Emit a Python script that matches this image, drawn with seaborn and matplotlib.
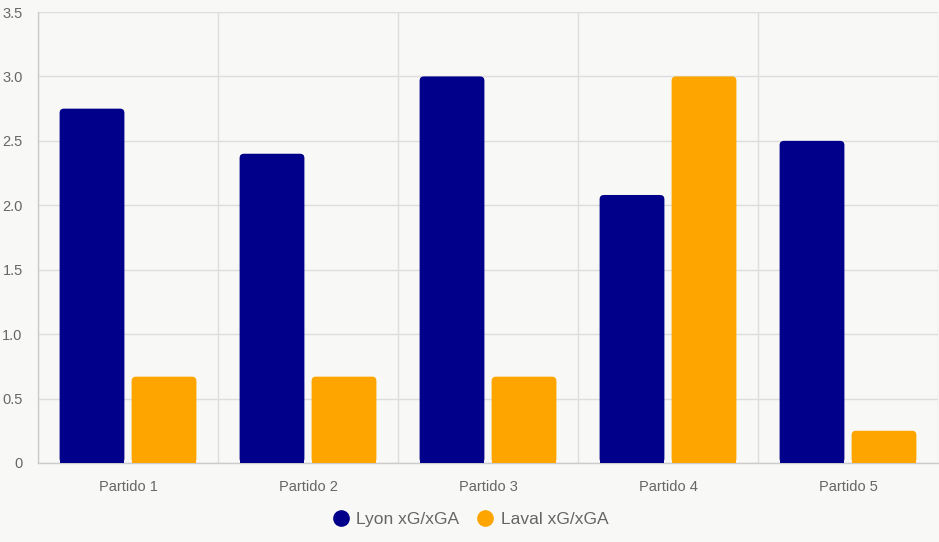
import matplotlib
matplotlib.use("Agg")
import matplotlib.pyplot as plt
from matplotlib.lines import Line2D
from matplotlib.patches import FancyBboxPatch
import seaborn as sns
import pandas as pd

categories = ["Partido 1", "Partido 2", "Partido 3", "Partido 4", "Partido 5"]
series_names = ["Lyon xG/xGA", "Laval xG/xGA"]
lyon_values = [2.75, 2.4, 3.0, 2.08, 2.5]
laval_values = [0.67, 0.67, 0.67, 3.0, 0.25]
y_ticks = [0, 0.5, 1.0, 1.5, 2.0, 2.5, 3.0, 3.5]
y_tick_labels = ["0", "0.5", "1.0", "1.5", "2.0", "2.5", "3.0", "3.5"]
colors = ["#00008B", "#FFA500"]

df = pd.DataFrame({
    "Partido": categories * 2,
    "Serie": [series_names[0]] * len(categories) + [series_names[1]] * len(categories),
    "Valor": lyon_values + laval_values,
})

sns.set_theme(style="white")
plt.rcParams["font.family"] = ["Liberation Sans", "DejaVu Sans"]
bg = "#F8F8F6"
grid_c = "#DDDDDD"
text_c = "#666666"

fig = plt.figure(figsize=(9.39, 5.42), dpi=100)
fig.patch.set_facecolor(bg)
ax = fig.add_axes([38 / 939, (542 - 463) / 542, 900 / 939, 451 / 542])
ax.set_facecolor(bg)

sns.barplot(data=df, x="Partido", y="Valor", hue="Serie", palette=colors,
            width=0.8, gap=0.1, ax=ax, legend=False, errorbar=None,
            saturation=1, zorder=3)

# round the top corners of the bars
patches = list(ax.patches)
for p in patches:
    x, y = p.get_x(), p.get_y()
    w, h = p.get_width(), p.get_height()
    if h <= 0:
        continue
    fc = p.get_facecolor()
    p.set_visible(False)
    r = 0.024
    fb = FancyBboxPatch((x, y), w, h, boxstyle=f"round,pad=0,rounding_size={r}",
                        mutation_aspect=3.5 / 451 * 180, facecolor=fc,
                        edgecolor="none", zorder=3)
    ax.add_patch(fb)
    # square the bottom corners
    ax.bar(x + w / 2, min(h, 0.1), width=w, bottom=y, color=fc, zorder=3,
           linewidth=0)

ax.set_xlim(-0.5, len(categories) - 0.5)
ax.set_ylim(0, 3.5)
ax.set_yticks(y_ticks)
ax.set_yticklabels(y_tick_labels)
ax.set_xticks([i - 0.5 for i in range(len(categories) + 1)])
ax.set_xticklabels([])
ax.set_xticks(range(len(categories)), minor=True)
ax.set_xticklabels(categories, minor=True)
ax.tick_params(axis="x", which="major", length=8, color=grid_c, width=1)
ax.tick_params(axis="x", which="minor", length=0, pad=12, labelsize=10.5,
               labelcolor=text_c)
ax.tick_params(axis="y", length=8, color=grid_c, width=1, labelsize=10.5,
               labelcolor=text_c, pad=3)
ax.grid(True, which="major", color=grid_c, linewidth=1, zorder=0)
ax.set_axisbelow(True)
for s in ["top", "right"]:
    ax.spines[s].set_visible(False)
for s in ["left", "bottom"]:
    ax.spines[s].set_color("#CCCCCC")
    ax.spines[s].set_linewidth(1)
ax.set_xlabel("")
ax.set_ylabel("")

handles = [Line2D([0], [0], marker="o", linestyle="none", markersize=11,
                  markerfacecolor=c, markeredgecolor=c) for c in colors]
fig.legend(handles, series_names, loc="center", bbox_to_anchor=(0.5, 1 - 519 / 542),
           ncol=2, frameon=False, fontsize=12.5, labelcolor=text_c,
           handletextpad=0.3, columnspacing=0.9, handlelength=1.2)

fig.savefig("out.png", dpi=100, facecolor=bg)
